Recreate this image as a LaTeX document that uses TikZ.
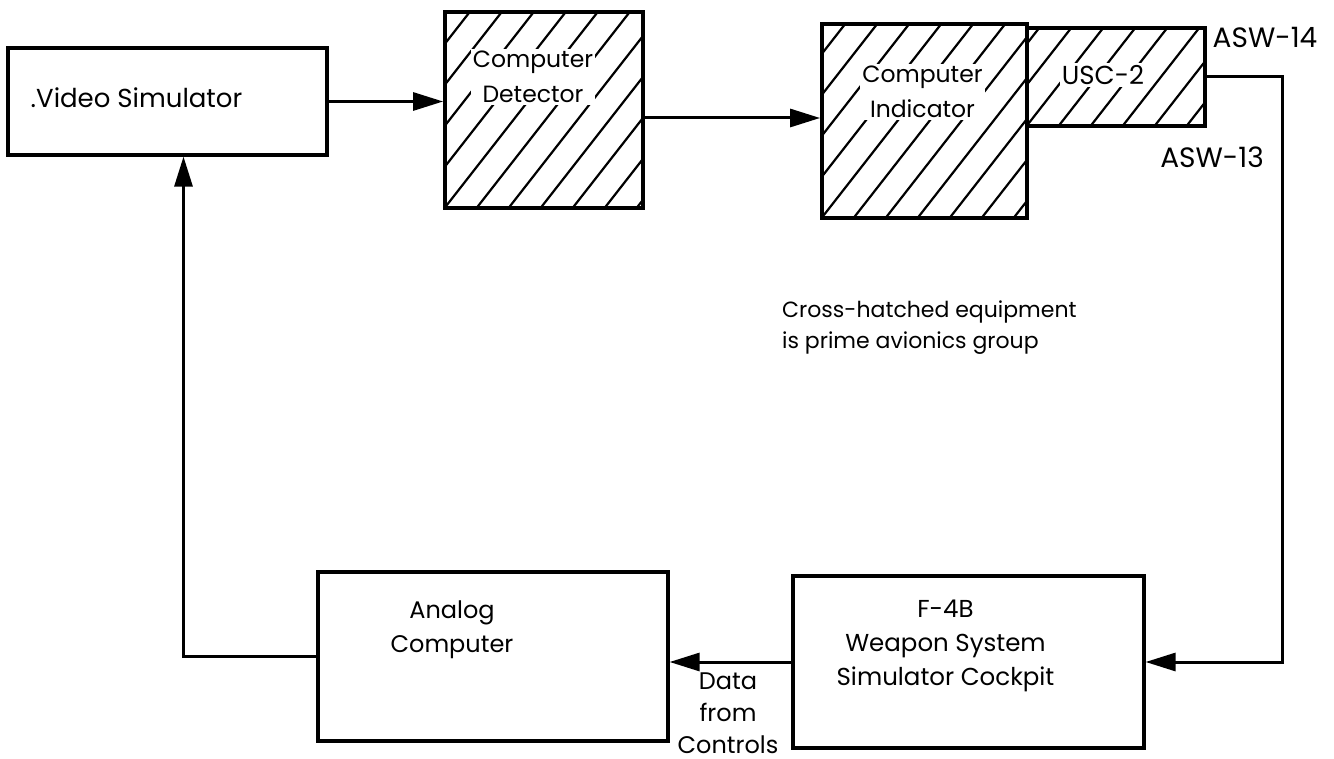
\documentclass[tikz,border=0pt]{standalone}
\usepackage{fontspec}
\setmainfont{Poppins}
\usetikzlibrary{positioning, arrows.meta, calc}

\begin{document}
\begin{tikzpicture}[
  x=1pt, y=-1pt,
  every node/.style={font=\fontsize{24}{34}\selectfont},
  blk/.style={draw, line width=3.2pt, inner sep=0pt},
  lbl/.style={align=center, inner sep=2pt},
  hatch/.style={line width=2.2pt},
  arrow/.style={-{Triangle[length=30pt,width=18pt]}, line width=3pt},
]
\useasboundingbox (0,0) rectangle (1334,759);

% Top row
\node[blk, minimum width=319pt, minimum height=107pt] (vsim) at (167.5,101.5) {};
\node[blk, minimum width=198pt, minimum height=196pt, line width=3.8pt] (det) at (544,110) {};
\node[blk, minimum width=205pt, minimum height=194pt, line width=3.8pt] (ind) at (924.5,121) {};
\node[blk, minimum width=178pt, minimum height=98pt, line width=3.8pt] (usc) at (1116,77) {};

% Bottom row
\node[blk, minimum width=350pt, minimum height=169pt] (ac) at (493,656.5) {};
\node[blk, minimum width=351pt, minimum height=172pt] (fb) at (968.5,662) {};

% Hatching
\foreach \b in {det, ind, usc} {
  \begin{scope}
    \clip (\b.south west) rectangle (\b.north east);
    \foreach \k in {-9,...,8}
      \draw[hatch] ($(\b.south west)+(\k*32,0)$) -- ++(250,-320);
  \end{scope}
}

% Labels
\node[lbl, font=\fontsize{26}{34}\selectfont] (vsimtxt) at ([xshift=-31pt,yshift=4pt]vsim.center) {.Video Simulator};
\node[lbl, fill=white, font=\fontsize{23.5}{35}\selectfont] (dettxt) at ([xshift=-11pt,yshift=33pt]det.center) {Computer\\Detector};
\node[lbl, fill=white, font=\fontsize{23.5}{35}\selectfont] (indtxt) at ([xshift=-2pt,yshift=29pt]ind.center) {Computer\\Indicator};
\node[lbl, fill=white, font=\fontsize{26}{34}\selectfont] (usctxt) at ([xshift=-13pt,yshift=2pt]usc.center) {USC-2};
\node[lbl] (actxt) at ([xshift=-41pt,yshift=27pt]ac.center) {Analog\\Computer};
\node[lbl, font=\fontsize{24.5}{34}\selectfont] (fbtxt) at ([xshift=-23pt,yshift=16pt]fb.center) {F-4B\\Weapon System\\Simulator Cockpit};
\node[lbl, font=\fontsize{28}{34}\selectfont] (asw14) at (1265,37) {ASW-14};
\node[lbl, font=\fontsize{28}{34}\selectfont] (asw13) at (1212,157) {ASW-13};
\node[lbl, font=\fontsize{24}{32}\selectfont] (dfc) at (728,713) {Data\\from\\Controls};
\node[lbl, align=left, anchor=west, font=\fontsize{22}{31}\selectfont] (note) at (780,328) {Cross-hatched equipment\\is prime avionics group};

% Arrows
\draw[arrow] (vsim.east) -- (vsim.east -| det.west);
\draw[arrow] ([yshift=-8pt]det.east) -- ([yshift=-8pt]det.east -| ind.west);
\draw[arrow] (usc.east) -- ++(76,0) |- (fb.east);
\draw[arrow] (fb.west) -- (fb.west -| ac.east);
\draw[arrow] (ac.west) -| ([xshift=16pt]vsim.south);

\end{tikzpicture}
\end{document}
